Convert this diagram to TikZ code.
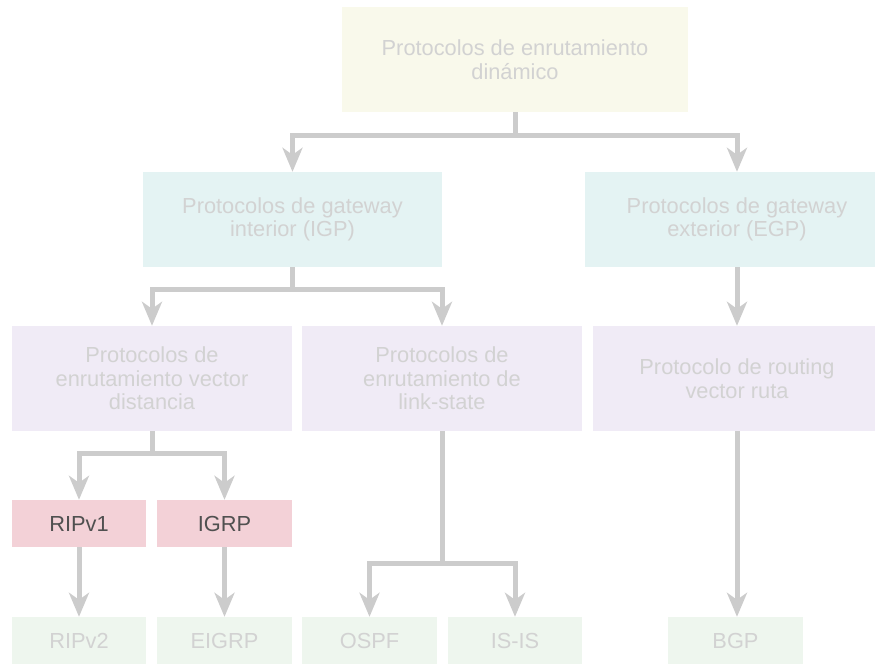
\documentclass[tikz,border=0pt]{standalone}
\usepackage{fontspec}
\setmainfont{Liberation Sans}
\usepackage{xcolor}
\usepackage{tikz}
\usetikzlibrary{arrows.meta}

\definecolor{topfill}{HTML}{F9F9EB}
\definecolor{gwfill}{HTML}{E4F3F3}
\definecolor{protofill}{HTML}{F0EBF6}
\definecolor{oldfill}{HTML}{F3D1D7}
\definecolor{newfill}{HTML}{EEF6EE}
\definecolor{fadetext}{HTML}{D2D2D2}
\definecolor{darktext}{HTML}{505050}
\definecolor{connline}{HTML}{CCCCCC}

\begin{document}
\begin{tikzpicture}[x=1pt, y=-1pt,
  box/.style={rectangle, inner sep=0pt, align=center, text=fadetext,
    font=\fontsize{21.8}{23.5}\selectfont},
  conn/.style={connline, line width=5pt,
    -{Stealth[width=20pt, length=24pt, inset=7pt]}}]
  \path[use as bounding box, clip] (0,0) rectangle (875,664);

  \node[box, fill=topfill, minimum width=346pt, minimum height=105pt] (top) at (515,59.5) {Protocolos de enrutamiento\\din\'amico};
  \node[box, fill=gwfill, minimum width=299pt, minimum height=95pt] (igp) at (292.5,219.5) {Protocolos de gateway\\interior (IGP)};
  \node[box, fill=gwfill, minimum width=304pt, minimum height=95pt] (egp) at (737,219.5) {Protocolos de gateway\\exterior (EGP)};
  \node[box, fill=protofill, minimum width=280pt, minimum height=105pt] (vdist) at (152,378.5) {Protocolos de\\enrutamiento vector\\distancia};
  \node[box, fill=protofill, minimum width=280pt, minimum height=105pt] (lstate) at (442,378.5) {Protocolos de\\enrutamiento de\\link-state};
  \node[box, fill=protofill, minimum width=288pt, minimum height=105pt] (vruta) at (737,378.5) {Protocolo de routing\\vector ruta};
  \node[box, fill=oldfill, text=darktext, minimum width=134pt, minimum height=47pt] (ripone) at (79,523.5) {RIPv1};
  \node[box, fill=oldfill, text=darktext, minimum width=135pt, minimum height=47pt] (igrp) at (224.5,523.5) {IGRP};
  \node[box, fill=newfill, minimum width=134pt, minimum height=47pt] (riptwo) at (79,640.5) {RIPv2};
  \node[box, fill=newfill, minimum width=135pt, minimum height=47pt] (eigrp) at (224.5,640.5) {EIGRP};
  \node[box, fill=newfill, minimum width=135pt, minimum height=47pt] (ospf) at (369.5,640.5) {OSPF};
  \node[box, fill=newfill, minimum width=134pt, minimum height=47pt] (isis) at (515,640.5) {IS-IS};
  \node[box, fill=newfill, minimum width=135pt, minimum height=47pt] (bgp) at (735.5,640.5) {BGP};

  \draw[conn] (top.south) -- ++(0,23) -| (igp.north);
  \draw[conn] (top.south) -- ++(0,23) -| (egp.north);
  \draw[conn] (igp.south) -- ++(0,22) -| (vdist.north);
  \draw[conn] (igp.south) -- ++(0,22) -| (lstate.north);
  \draw[conn] (egp.south) -- (vruta.north);
  \draw[conn] (vdist.south) -- ++(0,22) -| (ripone.north);
  \draw[conn] (vdist.south) -- ++(0,22) -| (igrp.north);
  \draw[conn] (lstate.south) -- ++(0,132) -| (ospf.north);
  \draw[conn] (lstate.south) -- ++(0,132) -| (isis.north);
  \draw[conn] (ripone.south) -- (riptwo.north);
  \draw[conn] (igrp.south) -- (eigrp.north);
  \draw[conn] (vruta.south) -- (vruta.south |- bgp.north);
\end{tikzpicture}
\end{document}
